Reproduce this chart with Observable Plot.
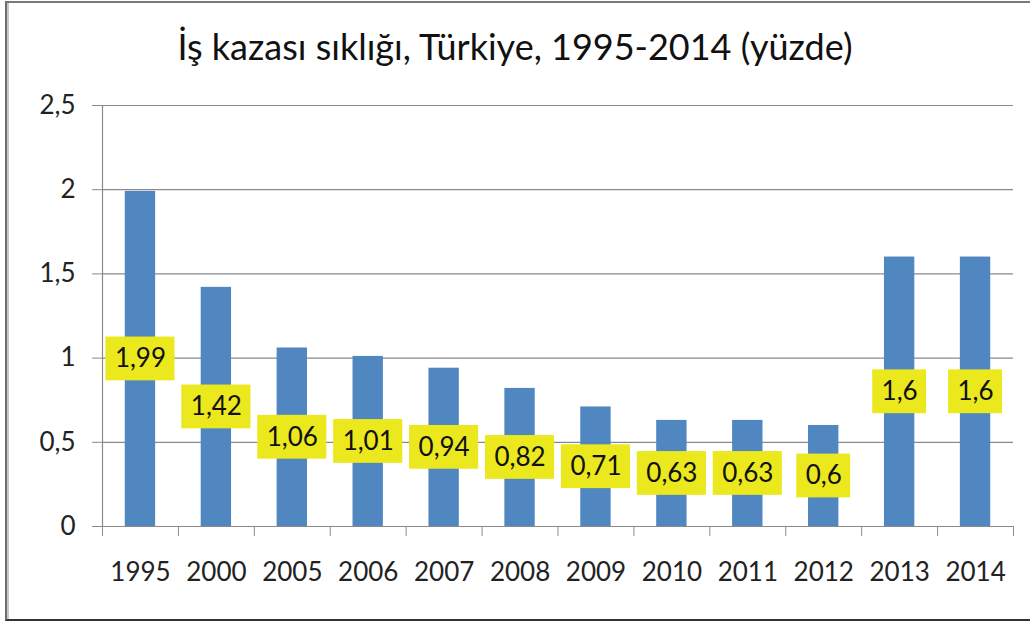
<!DOCTYPE html>
<html>
<head>
<meta charset="utf-8">
<script src="https://cdn.jsdelivr.net/npm/d3@7"></script>
<script src="https://cdn.jsdelivr.net/npm/@observablehq/plot@0.6"></script>
<style>
  html, body { margin: 0; padding: 0; background: #fff; }
  #wrap { position: relative; width: 1030px; height: 623px; overflow: hidden; font-family: Lato, "Open Sans", sans-serif; }
  #frame { position: absolute; left: 5px; top: 1px; width: 1040px; height: 620px;
           border-left: 2px solid #6e6e6e; border-top: 2px solid #7a7a7a; border-bottom: 2px solid #333;
           box-shadow: inset 2px 0 0 #c8c8c8; box-sizing: border-box; }
  #title { position: absolute; left: 0; top: 24px; width: 1030px; text-align: center;
           font-size: 36px; line-height: 44px; color: #111; }
  #chart { position: absolute; left: 0; top: 88px; }
</style>
</head>
<body>
<div id="wrap">
  <div id="frame"></div>
  <div id="title">İş kazası sıklığı, Türkiye, 1995-2014 (yüzde)</div>
  <div id="chart"></div>
</div>
<script>
const years = ["1995","2000","2005","2006","2007","2008","2009","2010","2011","2012","2013","2014"];
const values = [1.99, 1.42, 1.06, 1.01, 0.94, 0.82, 0.71, 0.63, 0.63, 0.6, 1.6, 1.6];
const yTicks = [0, 0.5, 1, 1.5, 2, 2.5];

const fmt = v => String(v).replace(".", ",");
const data = years.map((y, i) => ({i, year: y, value: values[i], label: fmt(values[i])}));
const halfW = d => 0.1 * d.label.length + 0.055;
const halfH = 0.13;

const chart = Plot.plot({
  width: 1030,
  height: 535,
  marginLeft: 102,
  marginRight: 17,
  marginTop: 17,
  marginBottom: 97,
  style: {fontFamily: "Lato, 'Open Sans', sans-serif", fontSize: "26px", color: "#222", background: "transparent", overflow: "visible"},
  x: {domain: [0, years.length], axis: null},
  y: {domain: [0, 2.5], axis: null},
  marks: [
    Plot.ruleY(yTicks, {y: d => d, stroke: "#8a8a8a", strokeWidth: 1.2, x1: 0, x2: years.length}),
    Plot.axisY({ticks: yTicks, tickSize: 10, tickPadding: 17, stroke: "#8a8a8a", tickFormat: fmt, fontSize: 26, label: null}),
    Plot.ruleX([0], {stroke: "#8a8a8a", strokeWidth: 1.2}),
    Plot.axisX({ticks: d3.range(years.length + 1), tickSize: 10, tickFormat: () => "", stroke: "#8a8a8a", label: null}),
    Plot.axisX({ticks: d3.range(years.length).map(i => i + 0.5), tickSize: 0, tickPadding: 36,
                tickFormat: t => years[Math.floor(t)], fontSize: 26, label: null}),
    Plot.rectY(data, {x1: d => d.i + 0.3, x2: d => d.i + 0.7, y1: 0, y2: "value", fill: "#5087C1"}),
    Plot.rect(data, {x1: d => d.i + 0.5 - halfW(d), x2: d => d.i + 0.5 + halfW(d),
                     y1: d => d.value / 2 - halfH, y2: d => d.value / 2 + halfH, fill: "#ECE81E"}),
    Plot.text(data, {x: d => d.i + 0.5, y: d => d.value / 2, text: "label", fill: "#111", fontSize: 26})
  ]
});
document.getElementById("chart").appendChild(chart);
</script>
</body>
</html>
